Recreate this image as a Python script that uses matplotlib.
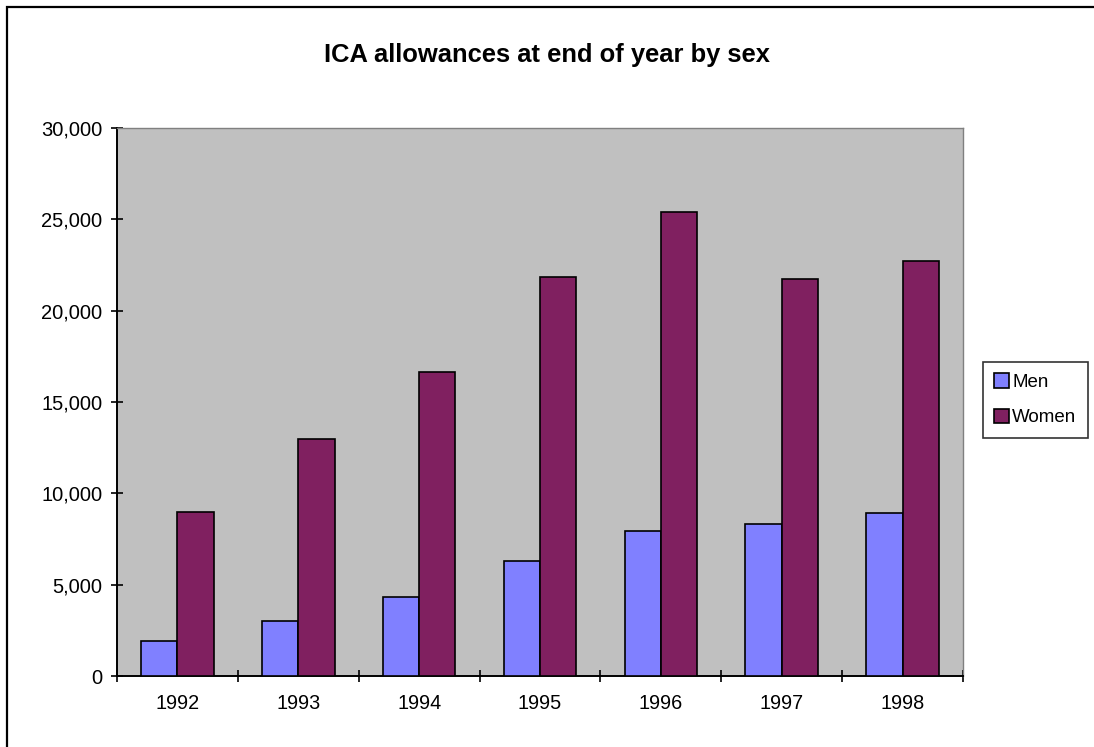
import matplotlib.pyplot as plt
import numpy as np
from matplotlib.ticker import FuncFormatter
from matplotlib.patches import Rectangle

years = ['1992', '1993', '1994', '1995', '1996', '1997', '1998']
men = [1900, 3000, 4300, 6300, 7950, 8300, 8950]
women = [9000, 13000, 16650, 21850, 25380, 21720, 22700]

plt.rcParams['font.family'] = ['Liberation Sans', 'DejaVu Sans']

fig = plt.figure(figsize=(10.94, 7.47), dpi=100)
ax = fig.add_axes([117/1094, 1 - 676/747, (963 - 117)/1094, (676 - 128)/747])
ax.set_facecolor('#c0c0c0')

x = np.arange(len(years))
w = 0.3
ax.bar(x - w/2, men, w, color='#8080ff', edgecolor='black', linewidth=1.2, label='Men', zorder=3)
ax.bar(x + w/2, women, w, color='#802060', edgecolor='black', linewidth=1.2, label='Women', zorder=3)

ax.set_xlim(-0.5, len(years) - 0.5)
ax.set_ylim(0, 30000)
ax.set_yticks(np.arange(0, 30001, 5000))
ax.yaxis.set_major_formatter(FuncFormatter(lambda v, p: f'{int(v):,}'))
ax.set_xticks(np.arange(-0.5, len(years)), labels=[''] * (len(years) + 1))
ax.set_xticks(x, labels=years, minor=True)
ax.tick_params(axis='x', which='minor', length=0, pad=13, labelsize=14.3)
ax.tick_params(axis='x', which='major', direction='inout', length=9, width=1.2)
ax.tick_params(axis='y', direction='inout', length=9, width=1.2, labelsize=14.5, pad=6)

for s in ['top', 'right']:
    ax.spines[s].set_color('#808080')
    ax.spines[s].set_linewidth(1)
for s in ['left', 'bottom']:
    ax.spines[s].set_linewidth(1.4)

fig.text(0.5, 1 - 55/747, 'ICA allowances at end of year by sex', ha='center', va='center',
         fontsize=18.4, fontweight='bold')

leg = fig.legend(loc='upper left', bbox_to_anchor=(983/1094, 1 - 362/747), frameon=True,
                 fancybox=False, edgecolor='black', fontsize=13.5, handlelength=0.8,
                 handleheight=0.8, handletextpad=0.15, borderpad=0.6, labelspacing=0.95,
                 borderaxespad=0)
leg.get_frame().set_linewidth(1.2)

# outer chart border (cropped on the right and bottom)
fig.patches.append(Rectangle((6.5/1094, -0.1), 1.2, 1 - 6.5/747 + 0.1, transform=fig.transFigure,
                             fill=False, edgecolor='black', linewidth=1.6))

fig.savefig('out.png', dpi=100)
